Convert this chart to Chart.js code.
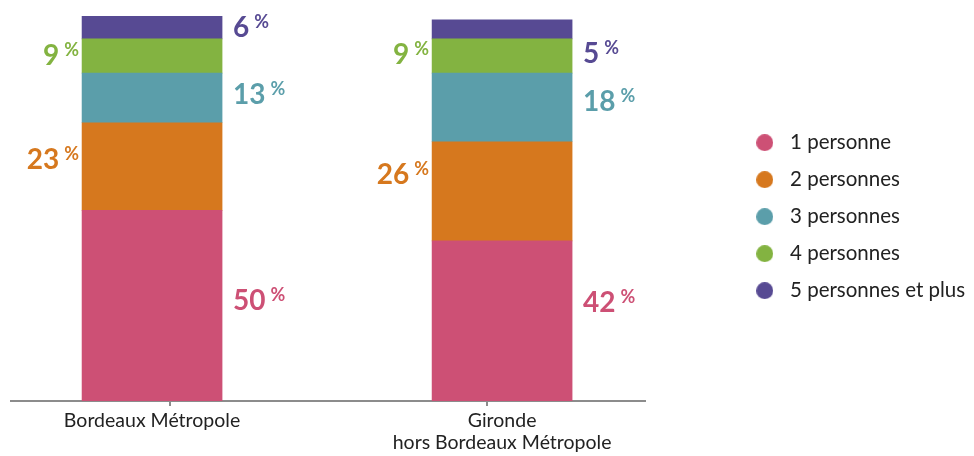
<!DOCTYPE html>
<html lang="fr">
<head>
<meta charset="utf-8">
<title>Taille des ménages</title>
<script src="https://cdn.jsdelivr.net/npm/chart.js@4/dist/chart.umd.min.js"></script>
<style>
  html, body { margin: 0; padding: 0; background: #ffffff; }
  #wrap { width: 974px; height: 456px; position: relative; }
</style>
</head>
<body>
<div id="wrap"><canvas id="chart"></canvas></div>
<script>
// Territoires comparés (une barre empilée par territoire)
const territories = ['Bordeaux Métropole', ['Gironde', 'hors Bordeaux Métropole']];

// Catégories de taille de ménage
const householdSizes = ['1 personne', '2 personnes', '3 personnes', '4 personnes', '5 personnes et plus'];

// Parts des ménages (%), dans l'ordre des territoires
const onePerson    = [50, 42];
const twoPersons   = [23, 26];
const threePersons = [13, 18];
const fourPersons  = [9, 9];
const fivePlus     = [6, 5];

const seriesValues = [onePerson, twoPersons, threePersons, fourPersons, fivePlus];
const seriesColors = ['#CD5075', '#D6781E', '#5B9EAA', '#83B341', '#574A93'];

// Côté des étiquettes de valeur et petit décalage vertical (px) pour éviter les chevauchements
const labelSides = [['right', 'right'], ['left', 'left'], ['right', 'right'], ['left', 'left'], ['right', 'right']];
const labelNudge = [[-6, -19], [-8, -17], [-4, -6], [-1.5, -2], [0, 24]];

const FONT = 'Lato, "Open Sans", sans-serif';

// Pastille ronde pour la légende
function dot(color, d) {
  const c = document.createElement('canvas');
  c.width = d; c.height = d;
  const g = c.getContext('2d');
  g.fillStyle = color;
  g.beginPath();
  g.arc(d / 2, d / 2, d / 2, 0, Math.PI * 2);
  g.fill();
  return c;
}

const datasets = householdSizes.map((name, s) => ({
  label: name,
  data: seriesValues[s].map((v, i) => ({ x: i, y: v })),
  backgroundColor: seriesColors[s],
  borderWidth: 0,
  barThickness: 140,
  xAxisID: 'x',
  yAxisID: 'y'
}));

const stackTotal = Math.max(...territories.map((_, i) => seriesValues.reduce((a, arr) => a + arr[i], 0)));

// Étiquettes « NN % » à côté de chaque segment
const valueLabels = {
  id: 'valueLabels',
  afterDatasetsDraw(chart) {
    const ctx = chart.ctx;
    ctx.save();
    chart.data.datasets.forEach((ds, s) => {
      const meta = chart.getDatasetMeta(s);
      meta.data.forEach((el, i) => {
        const value = seriesValues[s][i];
        const cy = (el.y + el.base) / 2 + labelNudge[s][i];
        const base = cy + 10;
        ctx.fillStyle = seriesColors[s];
        ctx.textBaseline = 'alphabetic';
        ctx.textAlign = 'left';
        ctx.font = 'bold 28px ' + FONT;
        const num = String(value);
        const nw = ctx.measureText(num).width;
        ctx.font = 'bold 18px ' + FONT;
        const pw = ctx.measureText('%').width;
        const half = el.width / 2;
        let x0;
        if (labelSides[s][i] === 'right') {
          x0 = el.x + half + 11;
        } else {
          x0 = el.x - half - 3 - pw - 5 - nw;
        }
        ctx.font = 'bold 28px ' + FONT;
        ctx.fillText(num, x0, base);
        ctx.font = 'bold 18px ' + FONT;
        ctx.fillText('%', x0 + nw + 5, base - 9);
      });
    });
    ctx.restore();
  }
};

new Chart(document.getElementById('chart'), {
  type: 'bar',
  data: { datasets },
  options: {
    responsive: true,
    maintainAspectRatio: false,
    animation: false,
    layout: { padding: { left: 11, right: 0, top: 16, bottom: 0 } },
    scales: {
      x: {
        type: 'linear',
        stacked: true,
        offset: false,
        min: -0.403,
        max: 1.409,
        weight: 1,
        afterBuildTicks: (scale) => { scale.ticks = territories.map((_, i) => ({ value: i })); },
        afterFit: (scale) => { scale.height -= 2; },
        ticks: {
          autoSkip: false,
          maxRotation: 0,
          padding: 4,
          color: '#222222',
          font: { family: FONT, size: 19.5, lineHeight: 1.13 },
          callback: (v) => territories[v]
        },
        grid: { display: false, drawTicks: false },
        border: { display: false }
      },
      axisLine: {
        type: 'linear',
        position: 'bottom',
        offset: false,
        min: 0,
        max: 2,
        weight: 0,
        ticks: { display: false, stepSize: 1 },
        grid: { drawOnChartArea: false, drawTicks: true, tickLength: 5, color: '#8C8C8C', lineWidth: 2 },
        border: { color: '#8C8C8C', width: 2 }
      },
      y: {
        stacked: true,
        display: false,
        min: 0,
        max: stackTotal
      },
      gap: {
        type: 'linear',
        position: 'right',
        display: true,
        ticks: { display: false },
        grid: { display: false, drawTicks: false },
        border: { display: false },
        afterFit: (scale) => { scale.width = 88; }
      }
    },
    plugins: {
      tooltip: { enabled: false },
      legend: {
        position: 'right',
        align: 'start',
        title: { display: true, text: '', font: { size: 12, lineHeight: 1.2 }, padding: { top: 85.5, bottom: 0 } },
        labels: {
          usePointStyle: true,
          pointStyleWidth: 30,
          padding: 16.5,
          color: '#222222',
          font: { family: FONT, size: 20.5 },
          generateLabels: (chart) => chart.data.datasets.map((ds, i) => ({
            text: ds.label,
            fillStyle: ds.backgroundColor,
            strokeStyle: ds.backgroundColor,
            lineWidth: 0,
            pointStyle: dot(ds.backgroundColor, 17),
            hidden: false,
            datasetIndex: i,
            fontColor: '#222222'
          }))
        }
      }
    }
  },
  plugins: [valueLabels]
});
</script>
</body>
</html>
